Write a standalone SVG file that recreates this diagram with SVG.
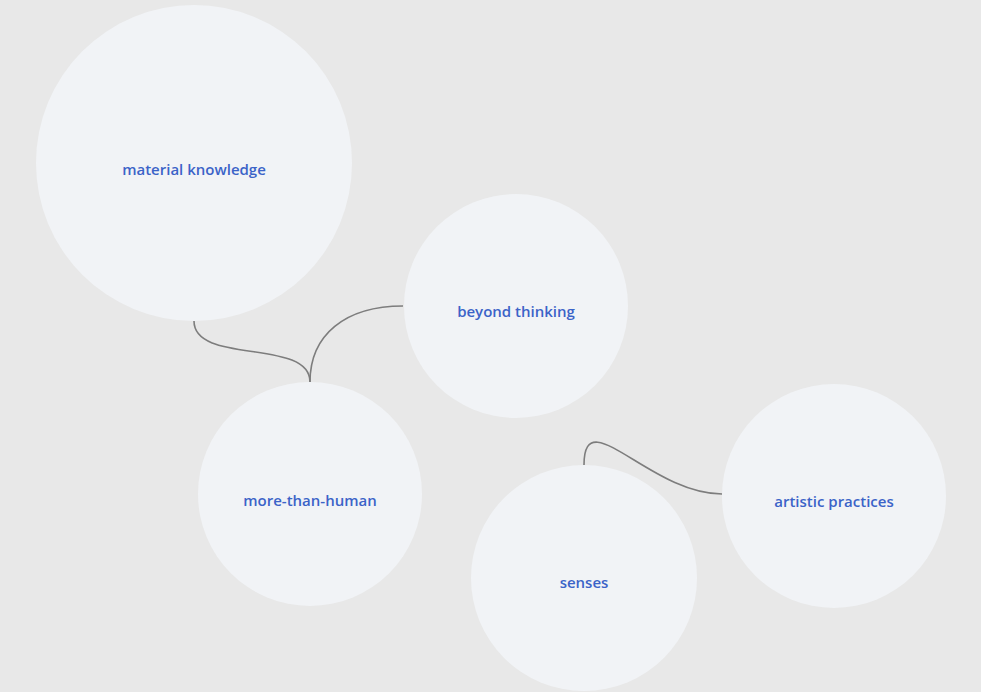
<svg xmlns="http://www.w3.org/2000/svg" width="981" height="692" viewBox="0 0 981 692">
  <style>
    .bubble { fill: #f1f3f6; }
    .label { font-family: "Open Sans", "Noto Sans", sans-serif; font-size: 15px; font-weight: 600; fill: #3b63c8; text-anchor: middle; dominant-baseline: central; }
    .link { fill: none; stroke: #7d7d7d; stroke-width: 1.6; }
  </style>
  <rect width="981" height="692" fill="#e8e8e8"/>
  <g id="connectors">
    <path class="link" d="M194,321 C194,365 310,338 310,382"/>
    <path class="link" d="M403,306 C345,306 310,335 310,382"/>
    <path class="link" d="M584,465 C584,400 650,494 722,494"/>
  </g>
  <g id="material-knowledge">
    <circle class="bubble" cx="194" cy="163" r="158"/>
    <text class="label" x="194" y="169">material knowledge</text>
  </g>
  <g id="beyond-thinking">
    <circle class="bubble" cx="516" cy="306" r="112"/>
    <text class="label" x="516" y="311">beyond thinking</text>
  </g>
  <g id="more-than-human">
    <circle class="bubble" cx="310" cy="494" r="112"/>
    <text class="label" x="310" y="500">more-than-human</text>
  </g>
  <g id="senses">
    <circle class="bubble" cx="584" cy="578" r="113"/>
    <text class="label" x="584" y="582">senses</text>
  </g>
  <g id="artistic-practices">
    <circle class="bubble" cx="834" cy="496" r="112"/>
    <text class="label" x="834" y="501">artistic practices</text>
  </g>
</svg>
